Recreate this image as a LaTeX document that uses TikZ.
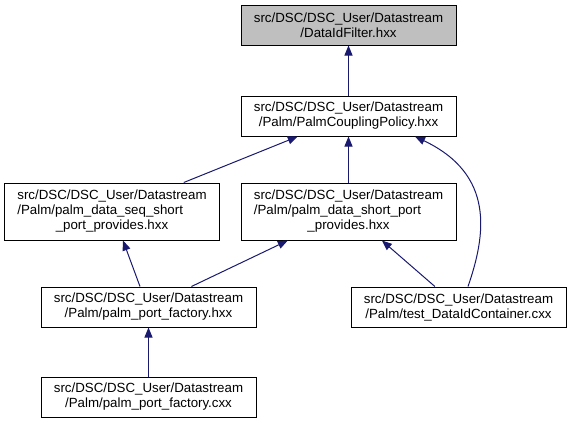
\documentclass[tikz,border=0pt]{standalone}
\usepackage{fontspec}
\setmainfont{Liberation Sans}
\usepackage{calc}
\usetikzlibrary{arrows.meta}
\definecolor{depBlue}{HTML}{191970}
\definecolor{rootGrey}{HTML}{BFBFBF}
\newcommand{\dscpath}{src/DSC/DSC\_User/Datastream}
\newcommand{\leftrow}[1]{\makebox[\widthof{\dscpath}][l]{#1}}

\begin{document}
\begin{tikzpicture}[
  x=1pt, y=-1pt,
  file/.style={draw=black, rectangle, minimum width=215pt, minimum height=40pt, align=center, inner sep=2pt, font=\fontsize{13.3}{15}\selectfont, line width=1pt, fill=white},
  tall/.style={minimum height=57pt},
  dep/.style={-{Triangle[length=10pt, width=8pt]}, line width=1pt, draw=depBlue}
]
\useasboundingbox (0,0) rectangle (569,424);
\node[file, fill=rootGrey] (root) at (348.5,25) {\dscpath\\/DataIdFilter.hxx};
\node[file] (policy) at (348.5,116) {\dscpath\\/Palm/PalmCouplingPolicy.hxx};
\node[file, tall] (seqshort) at (112,211.5) {\dscpath\\\leftrow{/Palm/palm\_data\_seq\_short}\\\_port\_provides.hxx};
\node[file, tall] (shortport) at (348.5,211.5) {\dscpath\\\leftrow{/Palm/palm\_data\_short\_port}\\\_provides.hxx};
\node[file] (factoryh) at (148.5,307) {\dscpath\\/Palm/palm\_port\_factory.hxx};
\node[file] (testcont) at (458.5,307) {\dscpath\\/Palm/test\_DataIdContainer.cxx};
\node[file] (factoryc) at (148.5,397) {\dscpath\\/Palm/palm\_port\_factory.cxx};
\draw[dep] (policy) -- (root);
\draw[dep] (seqshort) -- (policy);
\draw[dep] (shortport) -- (policy);
\draw[dep] ([xshift=9.5pt]testcont.north) .. controls +(18,-52) and +(80,38) .. ([xshift=66.5pt]policy.south);
\draw[dep] ([xshift=-8.5pt]factoryh.north) -- ([xshift=11pt]seqshort.south);
\draw[dep] (factoryh) -- (shortport);
\draw[dep] (testcont) -- (shortport);
\draw[dep] (factoryc) -- (factoryh);
\end{tikzpicture}
\end{document}
